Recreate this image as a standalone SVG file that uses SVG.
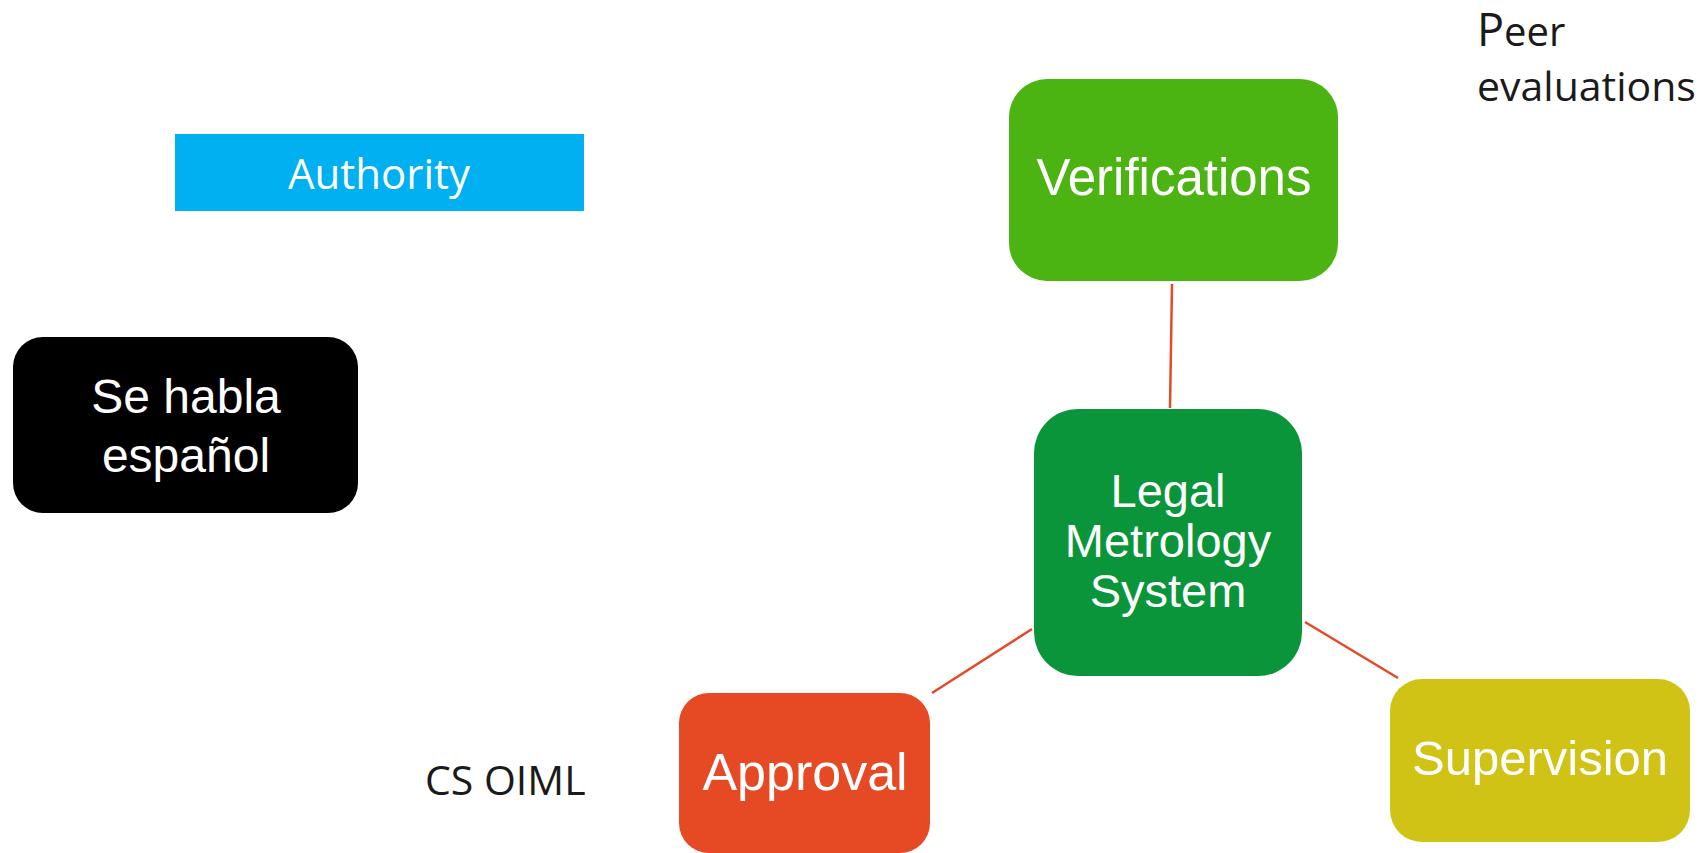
<svg xmlns="http://www.w3.org/2000/svg" width="1704" height="853" viewBox="0 0 1704 853">
<style>
.lbl{font-family:"Liberation Sans",Arial,sans-serif;fill:#fff;text-anchor:middle}
.os{font-family:"Open Sans","Noto Sans",sans-serif}
.con{stroke:#e54a26;stroke-width:2.5;fill:none}
</style>
<rect width="1704" height="853" fill="#fff"/>
<g id="connectors">
<line class="con" x1="1172" y1="284" x2="1170" y2="408"/>
<line class="con" x1="1032" y1="629" x2="932" y2="693"/>
<line class="con" x1="1305" y1="622" x2="1398" y2="678"/>
</g>
<g id="authority">
<rect x="175" y="134" width="409" height="77" fill="#00b0f0"/>
<text class="os" x="379" y="189" font-size="42" fill="#fff" text-anchor="middle">Authority</text>
</g>
<g id="se-habla">
<rect x="13" y="337" width="345" height="176" rx="30" fill="#000"/>
<text class="lbl" x="186" y="413" font-size="48">Se habla</text>
<text class="lbl" x="186" y="472" font-size="48">español</text>
</g>
<g id="verifications">
<rect x="1009" y="79" width="329" height="202" rx="38" fill="#4cb412"/>
<text class="lbl" x="1174" y="195" font-size="51">Verifications</text>
</g>
<g id="peer">
<text class="os" x="1477" y="46" font-size="40" fill="#1a1a1a"><tspan font-size="45">P</tspan>eer</text>
<text class="os" x="1477" y="101" font-size="41" fill="#1a1a1a">evaluations</text>
</g>
<g id="legal-metrology">
<rect x="1034" y="409" width="268" height="267" rx="44" fill="#0a953a"/>
<text class="lbl" x="1168" y="507" font-size="47">Legal</text>
<text class="lbl" x="1168" y="557" font-size="47">Metrology</text>
<text class="lbl" x="1168" y="607" font-size="47">System</text>
</g>
<g id="approval">
<rect x="679" y="693" width="251" height="160" rx="30" fill="#e54a25"/>
<text class="lbl" x="805" y="790" font-size="52">Approval</text>
</g>
<g id="supervision">
<rect x="1390" y="679" width="300" height="163" rx="32" fill="#d1c315"/>
<text class="lbl" x="1540" y="775" font-size="49">Supervision</text>
</g>
<g id="cs-oiml">
<text class="os" x="425" y="795" font-size="41" fill="#1a1a1a">CS OIML</text>
</g>
</svg>
